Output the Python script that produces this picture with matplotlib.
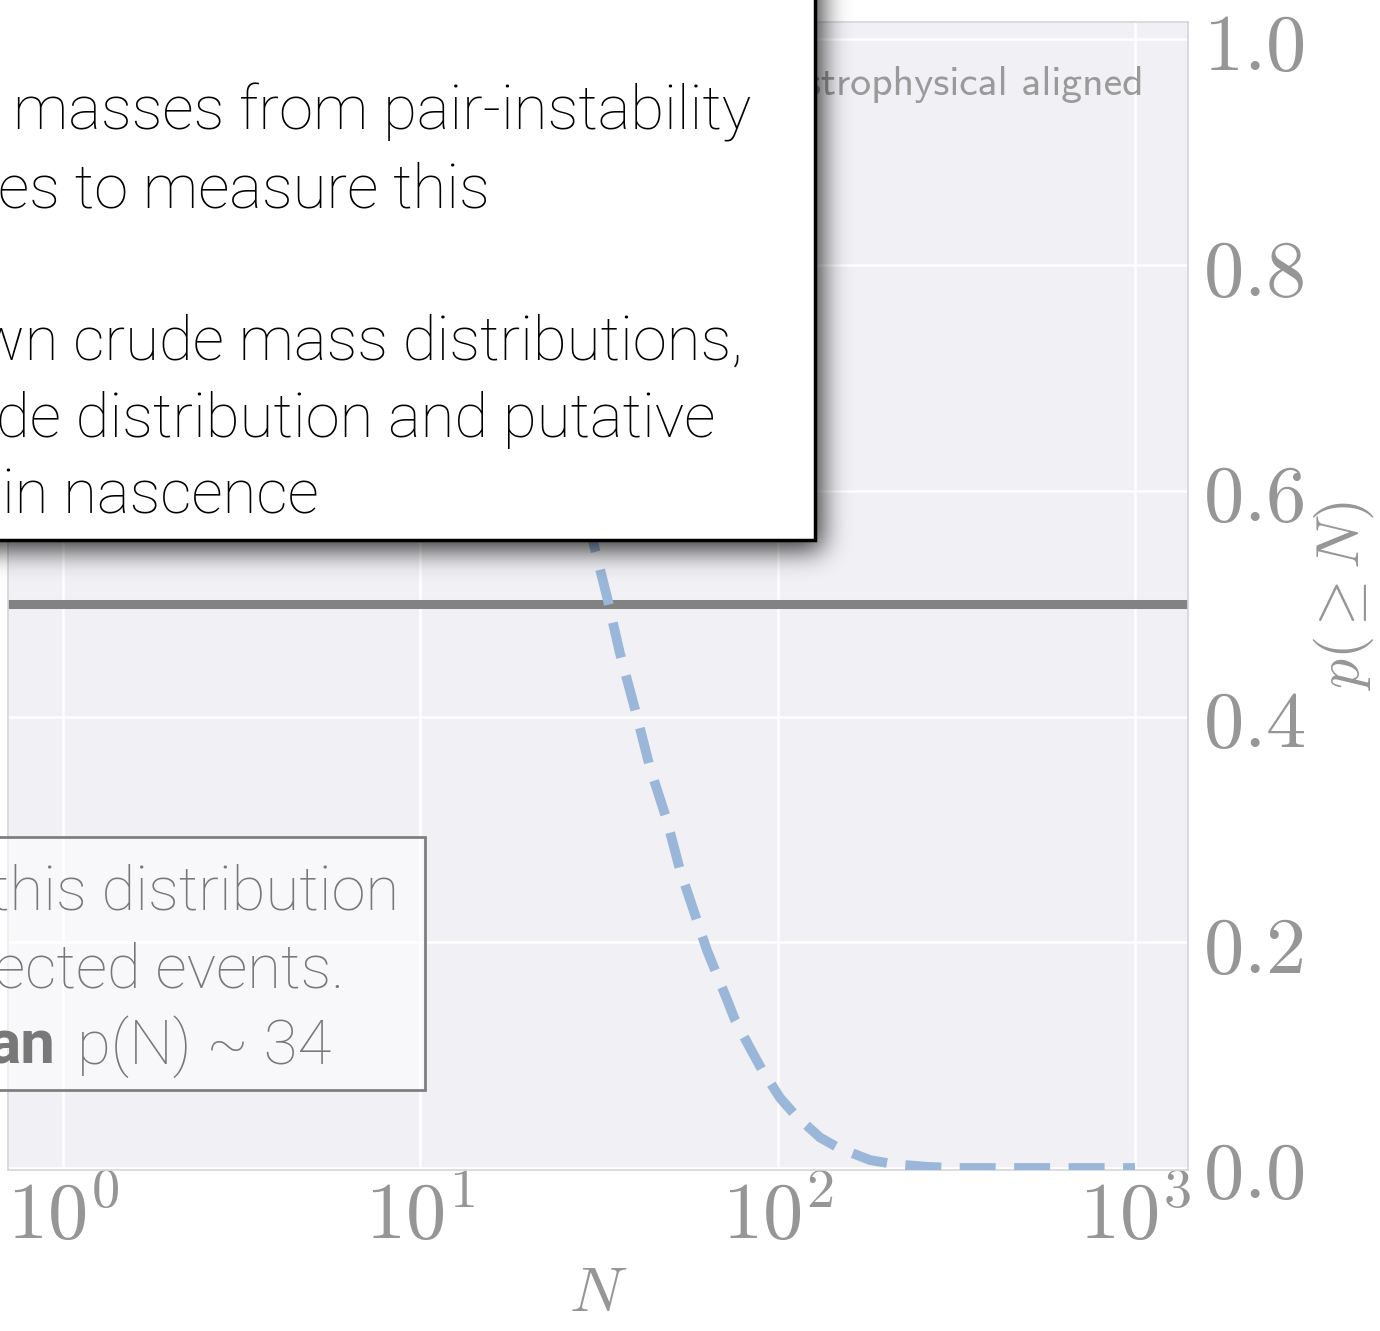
import numpy as np
import matplotlib.pyplot as plt
from matplotlib.patches import Rectangle

plt.rcParams['mathtext.fontset'] = 'cm'

# probability of seeing at least N events before the gap is resolved
n_events = [1, 5, 10, 15, 20, 25, 30.4, 33.3, 36.2, 40.4, 43.9, 49.0, 53.3,
            63.4, 72.2, 76.0, 84.8, 90.4, 101.6, 111.9, 131.4, 147.6, 181.4,
            210.4, 261.8, 317.8, 1000]
p_at_least = [1.0, 1.0, 0.99, 0.95, 0.86, 0.70, 0.556, 0.506, 0.456, 0.400,
              0.355, 0.308, 0.264, 0.193, 0.149, 0.131, 0.103, 0.087, 0.062,
              0.047, 0.027, 0.018, 0.007, 0.0035, 0.001, 0.0, 0.0]
threshold = 0.5

xticks = [1, 10, 100, 1000]
xtick_labels = [r'$10^{0}$', r'$10^{1}$', r'$10^{2}$', r'$10^{3}$']
yticks = [0.0, 0.2, 0.4, 0.6, 0.8, 1.0]
ytick_labels = [r'$%.1f$' % v for v in yticks]

panel_title = 'astrophysical aligned'
notes_top = [
    (13, 130, 'masses from pair-instability'),
    (-2, 207, 'es to measure this'),
    (-22, 360, 'wn crude mass distributions,'),
    (-4, 437, 'de distribution and putative'),
    (2, 513, 'in nascence'),
]
notes_bottom = [
    (-10, 910, 'this distribution'),
    (-6, 987, 'ected events.'),
]
median_tail = 'p(N) ~ 34'

W, H = 1380, 1331
fig = plt.figure(figsize=(W / 100, H / 100), dpi=100)


def fx(x):
    return x / W


def fy(y):
    return 1 - y / H


ax = fig.add_axes([fx(8), fy(1170), 1180 / W, 1148 / H])
ax.set_facecolor('#f0f0f5')
ax.set_xscale('log')
ax.set_xlim(0.7018, 1407)
ax.set_ylim(-0.0018, 1.0155)
ax.grid(True, color='white', lw=1.8)
ax.set_axisbelow(True)
for s in ax.spines.values():
    s.set_color('#d6d6da')
    s.set_linewidth(1.2)

ax.plot(n_events, p_at_least, color='#9ab7d9', lw=7, dashes=(3.7, 1.9),
        zorder=3)
ax.axhline(threshold, color='#828282', lw=6.5, zorder=2.5)

ax.set_xticks(xticks, xtick_labels)
ax.xaxis.set_minor_locator(plt.NullLocator())
ax.set_yticks(yticks, ytick_labels)
ax.yaxis.tick_right()
ax.yaxis.set_label_position('right')
ax.tick_params(axis='both', length=0, labelsize=58, labelcolor='#969696')
ax.tick_params(axis='x', pad=6)
ax.tick_params(axis='y', pad=11)
ax.set_xlabel(r'$N$', fontsize=46, color='#969696', labelpad=4)
ax.set_ylabel(r'$p(\geq N)$', fontsize=43, color='#969696', rotation=90,
              labelpad=4)

ax.text((1144 - 8) / 1180, (1170 - 95) / 1148, panel_title,
        transform=ax.transAxes, ha='right', va='baseline',
        family='cmss10', fontsize=30, color='#9a9a9a')

# blurred drop shadow under the white callout
pad = 80
box_r, box_b = 815, 540
mask = np.zeros((H + 2 * pad, W + 2 * pad))
mask[:box_b + 10 + pad, :box_r + 7 + pad] = 1.0
k = np.arange(-45, 46)
kernel = np.exp(-0.5 * (k / 13.0) ** 2)
kernel /= kernel.sum()
mask = np.apply_along_axis(lambda r: np.convolve(r, kernel, mode='same'), 1, mask)
mask = np.apply_along_axis(lambda c: np.convolve(c, kernel, mode='same'), 0, mask)
mask = mask[pad:pad + H, pad:pad + W]
shadow = np.zeros((H, W, 4))
shadow[..., 3] = 0.8 * mask
fig.figimage(shadow, xo=0, yo=0, origin='upper', zorder=9)

fig.add_artist(Rectangle((fx(-30), fy(box_b)), (box_r + 30) / W,
                         (box_b + 30) / H, transform=fig.transFigure,
                         facecolor='white', edgecolor='black', lw=2.5,
                         zorder=10))

text_font = ['Roboto', 'DejaVu Sans']
for x, y, s in notes_top:
    fig.text(fx(x), fy(y), s, ha='left', va='baseline', fontsize=44.5,
             family=text_font, fontweight='light', color='black', zorder=11)

# translucent notes box on the lower left
fig.add_artist(Rectangle((fx(-30), fy(1090)), (425 + 30) / W, (1090 - 837) / H,
                         transform=fig.transFigure, facecolor='white',
                         alpha=0.55, edgecolor='none', zorder=8))
fig.add_artist(Rectangle((fx(-30), fy(1090)), (425 + 30) / W, (1090 - 837) / H,
                         transform=fig.transFigure, facecolor='none',
                         edgecolor='#7f7f7f', lw=2, zorder=8))
for x, y, s in notes_bottom:
    fig.text(fx(x), fy(y), s, ha='left', va='baseline', fontsize=44.5,
             family=text_font, fontweight='light', color='#787878', zorder=9)
fig.text(fx(56), fy(1064), 'an', ha='right', va='baseline', fontsize=44.5,
         family=text_font, fontweight='bold', color='#787878', zorder=9)
fig.text(fx(77), fy(1064), median_tail, ha='left', va='baseline',
         fontsize=44.5, family=text_font, fontweight='light', color='#787878',
         zorder=9)

fig.savefig('out.png', dpi=100)
